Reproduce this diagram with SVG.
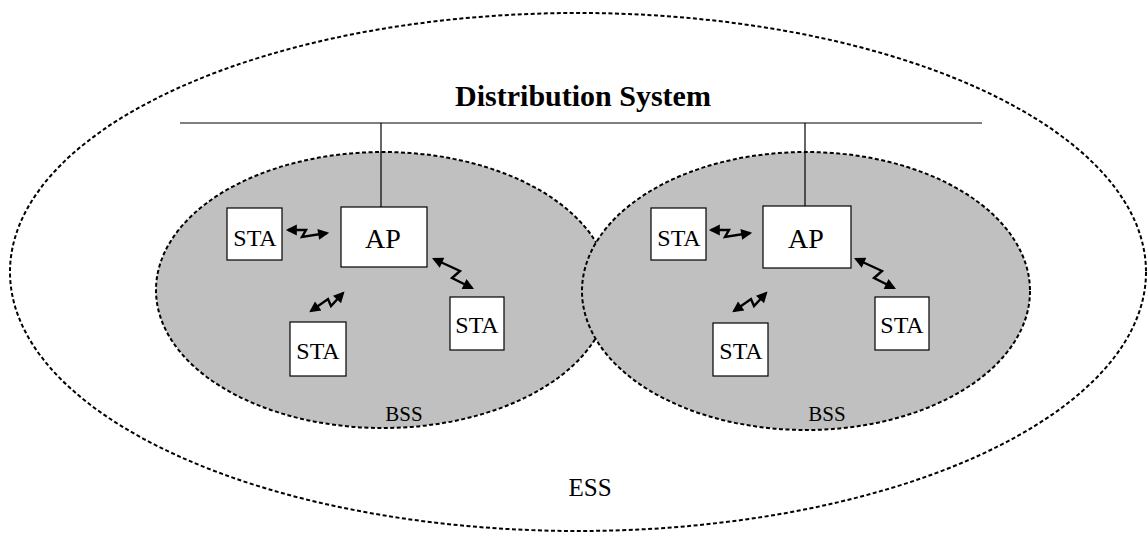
<svg xmlns="http://www.w3.org/2000/svg" width="1148" height="546" viewBox="0 0 1148 546">
<style>
.dash{stroke:#000;stroke-width:2;stroke-dasharray:4 2.5}
.box{fill:#fff;stroke:#000;stroke-width:1.2}
.t{font-family:"Liberation Serif","Times New Roman",serif;fill:#000;text-anchor:middle}
.ln{stroke:#000;stroke-width:1.2;fill:none}
.zz{stroke:#000;stroke-width:2.4;fill:none;marker-start:url(#ah);marker-end:url(#ah)}
</style>
<defs>
<marker id="ah" viewBox="0 0 10 10" refX="8" refY="5" markerWidth="5.6" markerHeight="4.6" orient="auto-start-reverse" markerUnits="strokeWidth">
<path d="M0,0 L10,5 L0,10 Z" fill="#000"/>
</marker>
</defs>
<rect width="1148" height="546" fill="#fff"/>
<g id="ess">
<ellipse cx="578" cy="272" rx="568" ry="259" fill="none" class="dash"/>
<text class="t" x="590" y="496" font-size="25">ESS</text>
</g>
<g id="bss1">
<ellipse cx="383" cy="290" rx="227" ry="138" fill="#c0c0c0" class="dash"/>
<text class="t" x="404" y="421" font-size="21">BSS</text>
</g>
<g id="bss2">
<ellipse cx="806" cy="291" rx="224" ry="139" fill="#c0c0c0" class="dash"/>
<text class="t" x="827" y="421" font-size="21">BSS</text>
</g>
<g id="ds">
<text class="t" x="583" y="106" font-size="30" font-weight="bold">Distribution System</text>
<line class="ln" x1="180" y1="123" x2="982" y2="123"/>
</g>
<g id="connectors">
<line class="ln" x1="381" y1="123" x2="381" y2="207"/>
<line class="ln" x1="805" y1="123" x2="805" y2="207"/>
<path class="zz" d="M288,230 L306,230 L302,237 L327,233"/>
<path class="zz" d="M434,259 L460,271 L452,278 L472,288"/>
<path class="zz" d="M311,311 L328,299 L331,306 L343,293"/>
<path class="zz" d="M711,230 L729,230 L725,237 L750,233"/>
<path class="zz" d="M856,259 L882,271 L874,278 L894,288"/>
<path class="zz" d="M734,311 L751,299 L754,306 L766,293"/>
</g>
<g id="ap1"><rect class="box" x="341" y="207" width="86" height="60"/><text class="t" x="383" y="248" font-size="28">AP</text></g>
<g id="sta1"><rect class="box" x="227" y="208" width="55" height="52"/><text class="t" x="255" y="246" font-size="24">STA</text></g>
<g id="sta2"><rect class="box" x="290" y="322" width="56" height="54"/><text class="t" x="318" y="359" font-size="24">STA</text></g>
<g id="sta3"><rect class="box" x="450" y="297" width="54" height="53"/><text class="t" x="477" y="333" font-size="24">STA</text></g>
<g id="ap2"><rect class="box" x="763" y="206" width="88" height="62"/><text class="t" x="806" y="248" font-size="28">AP</text></g>
<g id="sta4"><rect class="box" x="651" y="208" width="55" height="52"/><text class="t" x="679" y="246" font-size="24">STA</text></g>
<g id="sta5"><rect class="box" x="713" y="323" width="55" height="53"/><text class="t" x="741" y="359" font-size="24">STA</text></g>
<g id="sta6"><rect class="box" x="875" y="297" width="54" height="53"/><text class="t" x="902" y="333" font-size="24">STA</text></g>
</svg>
